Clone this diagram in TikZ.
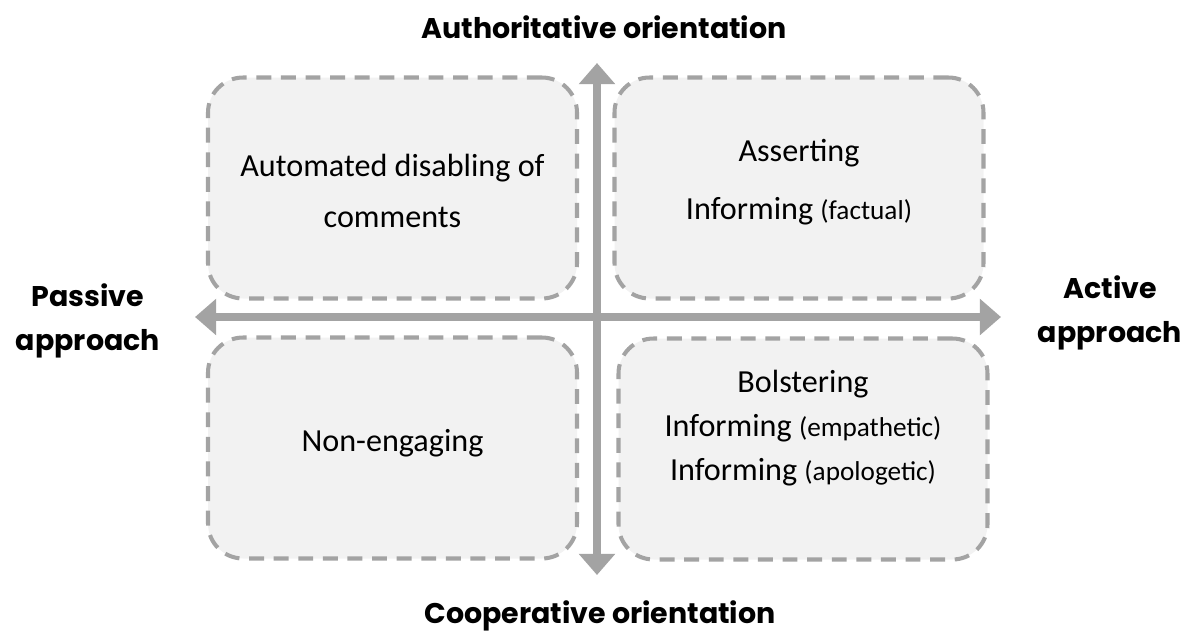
\documentclass[tikz,border=0pt]{standalone}
\usepackage{fontspec}
\setmainfont{Carlito}
\newfontfamily\axisfont{Poppins}
\usetikzlibrary{arrows.meta}
\definecolor{axisgray}{HTML}{A3A3A3}
\definecolor{boxfill}{HTML}{F2F2F2}
\newcommand\asidefont{\fontsize{15.5}{18}\selectfont}
\tikzset{
  quadbox/.style={draw=axisgray,fill=boxfill,line width=2.3pt,
    dash pattern=on 8.5pt off 5.5pt,rounded corners=20pt,
    minimum width=369*0.02cm,minimum height=221*0.02cm},
  quadtext/.style={align=center,font=\fontsize{18.3}{22}\selectfont},
  axislabel/.style={align=center,font=\axisfont\bfseries\fontsize{16.2}{25}\selectfont},
  axisline/.style={draw=axisgray,line width=4.2pt,
    {Triangle[width=20pt,length=12pt]}-{Triangle[width=20pt,length=12pt]}}
}
\begin{document}
\begin{tikzpicture}[x=0.02cm,y=-0.02cm]
\path[use as bounding box](0,0)rectangle(1201,633);
\node[quadbox](tl)at(392.5,188){};
\node[quadbox](tr)at(799,188){};
\node[quadbox](bl)at(392.5,448){};
\node[quadbox](br)at(803,449){};
\node[quadtext](tltext)at([yshift=-1.5pt]tl.center){Automated disabling of\\[7pt]comments};
\node[quadtext](trtext)at([yshift=3.5pt]tr.center){Asserting\\[11pt]Informing {\asidefont (factual)}};
\node[quadtext](bltext)at([yshift=3pt]bl.center){Non-engaging};
\node[quadtext](brtext)at([yshift=12pt]br.center){Bolstering\\[3pt]%
Informing {\asidefont (empathetic)}\\[3pt]Informing {\asidefont (apologetic)}};
\coordinate(N)at(597,63);
\coordinate(S)at(597,575);
\coordinate(W)at(195,317);
\coordinate(E)at(1001,317);
\path[axisline](N)--(S);
\path[axisline](W)--(E);
\node[axislabel](auth)at(604,27){Authoritative orientation};
\node[axislabel](coop)at(600,616){Cooperative orientation};
\node[axislabel](pass)at(88,321){Passive\\approach};
\node[axislabel](act)at(1110,313){Active\\approach};
\end{tikzpicture}
\end{document}
